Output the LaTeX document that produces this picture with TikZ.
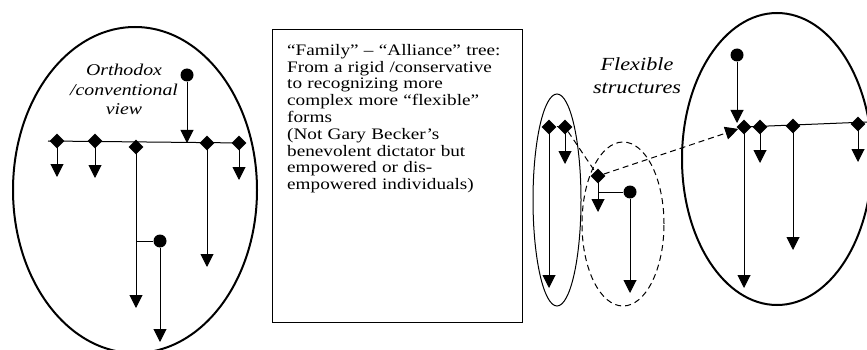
\documentclass[tikz,border=0pt]{standalone}
\usepackage{fontspec}
\setmainfont{Liberation Serif}
\newfontfamily\boxfont[FakeStretch=1.2]{Liberation Serif}
\usetikzlibrary{arrows.meta,shapes.geometric}
\begin{document}
\begin{tikzpicture}[x=1pt,y=-1pt,
  dia/.style={diamond,fill=black,inner sep=0pt,minimum width=15pt,minimum height=15pt},
  dot/.style={circle,fill=black,inner sep=0pt,minimum size=13pt},
  arr/.style={line width=1pt,-{Triangle[width=13pt,length=13pt]}},
  ln/.style={line width=1pt},
  dsh/.style={line width=1pt,dash pattern=on 6pt off 4pt},
  lab/.style={font=\boxfont\itshape\fontsize{16.5}{19.5}\selectfont,align=center,inner sep=0pt},
  txt/.style={font=\boxfont\fontsize{16}{16.8}\selectfont,align=left,inner sep=0pt,text width=240pt},
]
\useasboundingbox (0,0) rectangle (867,350);

% ---------- left ellipse ----------
\draw[line width=2pt] (135,190) ellipse [x radius=122pt, y radius=163pt];
\node[lab,anchor=north] (orth) at (124,64) {Orthodox\\/conventional\\view};

\coordinate (hl) at (48,141);
\coordinate (hr) at (245,143);
\draw[ln] (hl) -- (hr);
\node[dot] (c1) at (187,75) {};
\coordinate (j1) at (187,143);
\draw[arr] (c1) -- (j1);
\node[dia] (d1) at (57,141) {};
\node[dia] (d2) at (95,141) {};
\node[dia] (d3) at (136,147) {};
\node[dia] (d4) at (207,143) {};
\node[dia] (d5) at (239,143) {};
\coordinate (t1) at (57,177);
\coordinate (t2) at (95,178);
\coordinate (t3) at (136,308);
\coordinate (t4) at (207,267);
\coordinate (t5) at (239,180);
\draw[arr] (d1.center) -- (t1);
\draw[arr] (d2.center) -- (t2);
\draw[arr] (d3.center) -- (t3);
\draw[arr] (d4.center) -- (t4);
\draw[arr] (d5.center) -- (t5);
\node[dot] (c2) at (160,241) {};
\coordinate (k2) at (136,241);
\coordinate (t6) at (160,342);
\draw[ln] (k2) -- (c2);
\draw[arr] (c2) -- (t6);

% ---------- text box ----------
\node[draw,line width=1pt,minimum width=250pt,minimum height=293pt,anchor=north west,inner sep=0pt] (box) at (272,29) {};
\node[txt,anchor=north west] (boxtxt) at (287,44) {“Family” – “Alliance” tree:\\From a rigid /conservative\\to recognizing more\\complex more “flexible”\\forms\\(Not Gary Becker’s\\benevolent dictator but\\empowered or dis-\\empowered individuals)};

% ---------- right group ----------
\draw[line width=1pt] (557,200) ellipse [x radius=24pt, y radius=106pt];
\draw[dsh] (623,224) ellipse [x radius=41pt, y radius=82pt];
\draw[line width=2pt] (777,159) ellipse [x radius=95pt, y radius=146pt];
\node[lab,anchor=north,font=\boxfont\itshape\fontsize{18.5}{23.5}\selectfont] (flex) at (637,57) {Flexible\\structures};

\node[dia] (e1) at (549,127) {};
\node[dia] (e2) at (565,127) {};
\draw[ln] (e1) -- (e2);
\coordinate (u1) at (549,288);
\coordinate (u2) at (565,164);
\draw[arr] (e1.center) -- (u1);
\draw[arr] (e2.center) -- (u2);

\node[dia] (m1) at (598,176) {};
\draw[dsh] (e2) -- (m1);
\coordinate (u3) at (598,212);
\draw[arr] (m1.center) -- (u3);
\node[dot] (c3) at (630,192) {};
\coordinate (k3) at (598,192);
\draw[ln] (k3) -- (c3);
\coordinate (u4) at (630,293);
\draw[arr] (c3) -- (u4);

% big tree
\coordinate (fr) at (867,122);
\node[dia] (f1) at (744,127) {};
\node[dia] (f2) at (760,127) {};
\node[dia] (f3) at (793,126) {};
\node[dia] (f4) at (858,124) {};
\draw[ln] (f1.center) -- (fr);
\node[dot] (c4) at (737,55) {};
\coordinate (j4) at (737,123);
\draw[arr] (c4) -- (j4);
\coordinate (v1) at (744,288);
\coordinate (v2) at (760,163);
\coordinate (v3) at (793,250);
\coordinate (v4) at (858,162);
\draw[arr] (f1.center) -- (v1);
\draw[arr] (f2.center) -- (v2);
\draw[arr] (f3.center) -- (v3);
\draw[arr] (f4.center) -- (v4);
\draw[dsh,-{Triangle[width=13pt,length=13pt]}] (m1) -- (f1);
\end{tikzpicture}
\end{document}
